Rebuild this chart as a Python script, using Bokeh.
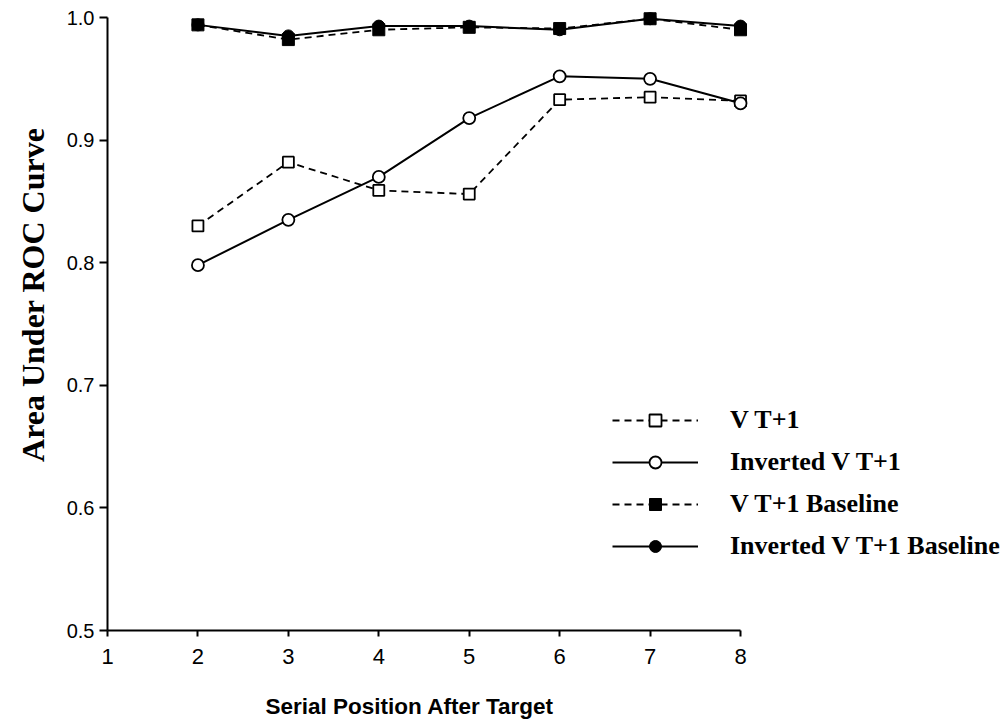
from bokeh.plotting import figure
from bokeh.models import Range1d, FixedTicker, PrintfTickFormatter, Legend, LegendItem, Title, Label
from bokeh.embed import file_html
from bokeh.resources import INLINE

# Data
positions = [2, 3, 4, 5, 6, 7, 8]
v_t1 = [0.830, 0.882, 0.859, 0.856, 0.933, 0.935, 0.932]
inverted_v_t1 = [0.798, 0.835, 0.870, 0.918, 0.952, 0.950, 0.930]
v_t1_baseline = [0.994, 0.982, 0.990, 0.992, 0.991, 0.999, 0.990]
inverted_v_t1_baseline = [0.994, 0.985, 0.993, 0.993, 0.990, 0.999, 0.993]

x_ticks = [1, 2, 3, 4, 5, 6, 7, 8]
y_ticks = [0.5, 0.6, 0.7, 0.8, 0.9, 1.0]

p = figure(width=1005, height=725, output_backend="svg", toolbar_location=None,
           x_range=Range1d(1, 10.93), y_range=Range1d(0.5, 1.0098),
           min_border_left=107, min_border_right=0, min_border_top=5, min_border_bottom=95)
p.outline_line_color = None
p.xgrid.visible = False
p.ygrid.visible = False
p.background_fill_color = "white"
p.border_fill_color = "white"

for ax in (p.xaxis[0], p.yaxis[0]):
    ax.axis_line_width = 2
    ax.axis_line_color = "black"
    ax.major_tick_line_width = 2
    ax.major_tick_line_color = "black"
    ax.major_tick_in = 0
    ax.minor_tick_line_color = None
    ax.major_label_text_font = "Liberation Sans"
    ax.major_label_text_color = "black"

p.xaxis[0].ticker = FixedTicker(ticks=x_ticks)
p.xaxis[0].bounds = (1, 8)
p.xaxis[0].major_tick_out = 6
p.xaxis[0].major_label_standoff = 12
p.xaxis[0].major_label_text_font_size = "22px"

p.yaxis[0].ticker = FixedTicker(ticks=y_ticks)
p.yaxis[0].formatter = PrintfTickFormatter(format="%.1f")
p.yaxis[0].bounds = (0.5, 1.0)
p.yaxis[0].major_tick_out = 8
p.yaxis[0].major_label_standoff = 5
p.yaxis[0].major_label_text_font_size = "20px"

x_title = Label(text="Serial Position After Target", x=158, y=-15,
                x_units="screen", y_units="screen",
                text_align="left", text_baseline="middle",
                text_font="Liberation Sans", text_font_style="bold",
                text_font_size="22.5px", text_color="black")
p.add_layout(x_title, "below")

y_title = Title(text="Area Under ROC Curve", align="right", offset=122, standoff=25,
                vertical_align="bottom", text_font="Liberation Serif", text_font_style="bold",
                text_font_size="32px", text_color="black")
p.add_layout(y_title, "left")

dash = "7 5"

l1 = p.line(positions, v_t1, line_color="black", line_width=1.8, line_dash=dash)
m1 = p.scatter(positions, v_t1, marker="square", size=11, fill_color="white",
               line_color="black", line_width=1.8)

l2 = p.line(positions, inverted_v_t1, line_color="black", line_width=2)
m2 = p.scatter(positions, inverted_v_t1, marker="circle", size=12, fill_color="white",
               line_color="black", line_width=1.8)

l3 = p.line(positions, v_t1_baseline, line_color="black", line_width=1.8, line_dash=dash)
m3 = p.scatter(positions, v_t1_baseline, marker="square", size=12, fill_color="black",
               line_color="black")

l4 = p.line(positions, inverted_v_t1_baseline, line_color="black", line_width=2)
m4 = p.scatter(positions, inverted_v_t1_baseline, marker="circle", size=12, fill_color="black",
               line_color="black")

legend = Legend(items=[
    LegendItem(label="V T+1", renderers=[l1, m1]),
    LegendItem(label="Inverted V T+1", renderers=[l2, m2]),
    LegendItem(label="V T+1 Baseline", renderers=[l3, m3]),
    LegendItem(label="Inverted V T+1 Baseline", renderers=[l4, m4]),
], location=(505, 69))
legend.glyph_width = 86
legend.glyph_height = 30
legend.label_height = 30
legend.label_standoff = 32
legend.spacing = 12
legend.padding = 0
legend.margin = 0
legend.border_line_color = None
legend.background_fill_alpha = 0
legend.label_text_font = "Liberation Serif"
legend.label_text_font_style = "bold"
legend.label_text_font_size = "26px"
legend.label_text_color = "black"
p.add_layout(legend, "center")

open("out.html", "w").write(file_html(p, INLINE))
